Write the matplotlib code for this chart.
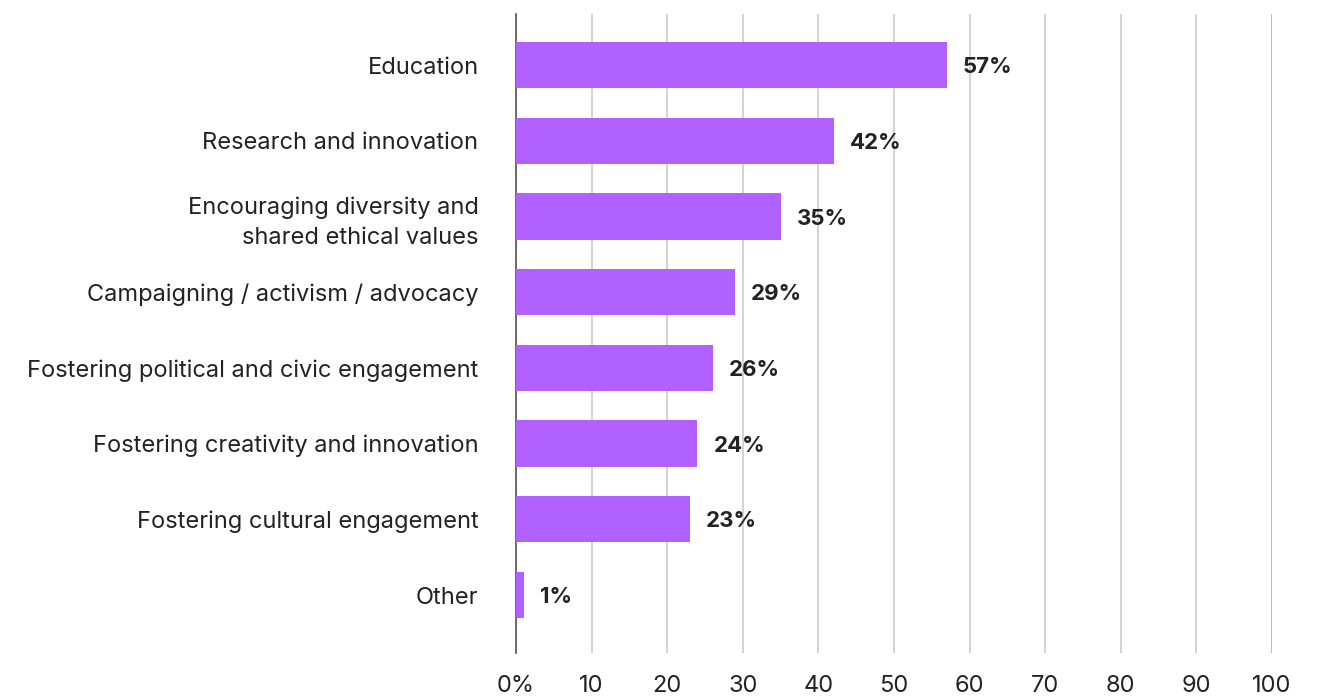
import matplotlib
matplotlib.use('Agg')
import matplotlib.pyplot as plt

plt.rcParams['font.family'] = ['Inter', 'DejaVu Sans']

categories = ['Education', 'Research and innovation',
              'Encouraging diversity and\nshared ethical values',
              'Campaigning / activism / advocacy',
              'Fostering political and civic engagement',
              'Fostering creativity and innovation',
              'Fostering cultural engagement', 'Other']
values = [57, 42, 35, 29, 26, 24, 23, 1]
x_ticks = [0, 10, 20, 30, 40, 50, 60, 70, 80, 90, 100]
x_tick_labels = ['0%', '10', '20', '30', '40', '50', '60', '70', '80', '90', '100']

bar_color = '#b061ff'
text_color = '#222222'
fs = 17

fig = plt.figure(figsize=(13.24, 6.98), dpi=100)
ax = fig.add_axes([516 / 1324, 1 - 653 / 698, 756 / 1324, 639 / 698])

pos = list(range(len(categories)))
ax.barh(pos, values, height=0.61, color=bar_color, zorder=3)

for p, v in zip(pos, values):
    ax.annotate(f'{v}%', (v, p), xytext=(11.5, -1.5), textcoords='offset points',
                va='center', ha='left', fontsize=16, fontweight='bold',
                color=text_color)

ax.set_xlim(0, 100)
ax.set_ylim(7.766, -0.674)
ax.set_yticks(pos)
ax.set_yticklabels(categories, fontsize=fs, color=text_color, linespacing=1.45)
for lbl in ax.get_yticklabels():
    lbl.set_multialignment('right')
ax.set_xticks(x_ticks)
ax.set_xticklabels(x_tick_labels, fontsize=fs, color=text_color)

ax.tick_params(axis='y', length=0, pad=27)
ax.tick_params(axis='x', length=0, pad=16)

ax.grid(axis='x', color='#cccccc', linewidth=1.2, zorder=0)
for side in ['top', 'bottom', 'right']:
    ax.spines[side].set_visible(False)
ax.spines['left'].set_color('#555555')
ax.spines['left'].set_linewidth(1.2)
ax.axvline(100, color='#555555', linewidth=1.2, zorder=1)

fig.savefig('out.png', dpi=100)
